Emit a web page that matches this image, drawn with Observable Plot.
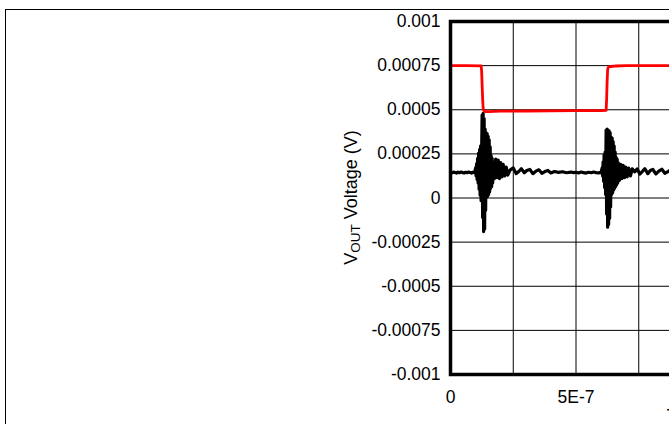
<!DOCTYPE html>
<html><head><meta charset="utf-8">
<script src="https://cdn.jsdelivr.net/npm/d3@7"></script>
<script src="https://cdn.jsdelivr.net/npm/@observablehq/plot@0.6"></script>
<style>
html,body{margin:0;padding:0;background:#fff;overflow:hidden;width:669px;height:424px;}
#border{position:absolute;left:5px;top:9px;width:2000px;height:2000px;border-left:1.5px solid #000;border-top:1.5px solid #000;}
#chart{position:absolute;left:0;top:0;width:980px;}
#chart svg{max-width:none !important;width:980px !important;height:424px !important;}
</style></head><body>
<div id="border"></div>
<div id="chart"></div>
<script>
// ---- data ----
const xTicks = [0, 5e-7];
const xGrid = [2.5e-7, 5e-7, 7.5e-7, 1e-6, 1.25e-6, 1.5e-6, 1.75e-6];
const yTicks = [0.001, 0.00075, 0.0005, 0.00025, 0, -0.00025, -0.0005, -0.00075, -0.001];
const xLabel = "Time (s)";
const yLabelMain = "V", yLabelSub = "OUT", yLabelRest = " Voltage (V)";

// red trace: time in ns, value in microvolts
const redTimeNs = [0, 60, 122, 124, 126, 128, 130, 133, 138, 150, 200, 300, 400, 500, 600, 620, 622, 624, 626, 628, 632, 640, 660, 700, 800, 920];
const redMicroV = [750, 750, 749, 720, 640, 560, 510, 495, 490, 489, 492, 493, 494, 495, 495, 496, 560, 660, 725, 740, 743, 745, 748, 750, 750, 750];

// black trace: time in ns, value in microvolts
const blackTimeNs = [
  0, 6, 12, 18, 24, 30, 36, 42, 48, 54, 60, 66, 72, 78, 84, 90, 96,
  100, 102, 104, 106, 108, 110, 112, 114, 116, 118, 120, 122, 124, 126, 128, 130, 132, 134, 136, 138, 140, 142, 144, 146, 148, 150, 152, 154, 156, 158, 160, 162, 164, 166, 168, 170,
  175, 180, 185, 190, 195, 200, 205, 210, 216, 222, 228, 238, 250, 262, 272, 282, 294, 304, 316, 328, 340, 352, 364, 376, 388, 400, 414, 430, 446, 462, 480,
  490, 500, 510, 520, 530, 540, 550, 560, 570, 580, 590, 600,
  604, 606, 608, 610, 612, 614, 616, 618, 620, 622, 624, 626, 628, 630, 632, 634, 636, 638, 640, 642, 644, 646, 648, 650, 652, 654, 656, 658, 660, 662, 664, 666, 668,
  673, 678, 683, 688, 693, 698, 704, 710, 717, 724, 734, 744, 754, 764, 774, 786, 796, 806, 818, 830, 842, 854, 866, 878, 890, 902, 914
];
const blackMicroV = [
  145, 142, 147, 144, 141, 146, 143, 147, 144, 142, 146, 143, 147, 144, 141, 146, 144,
  170, 125, 195, 105, 225, 85, 255, 50, 275, 15, 295, -15, 260, 470, -110, 480, -190, 450, -175, 390, -70, 370, 5, 365, 10, 350, 20, 330, 35, 290, 55, 240, 65, 225, 85, 205,
  110, 220, 115, 215, 110, 200, 120, 190, 125, 175, 130, 160, 170, 138, 150, 166, 143, 156, 162, 138, 152, 160, 140, 150, 156, 142, 150, 145, 149, 143, 147,
  144, 146, 142, 147, 144, 141, 146, 143, 147, 144, 142, 145,
  170, 125, 205, 95, 245, 60, 260, 20, 385, -90, 390, -165, 385, -150, 380, -115, 370, -50, 345, 20, 340, 30, 320, 45, 295, 55, 260, 65, 230, 75, 220, 85, 200,
  100, 190, 110, 185, 115, 175, 120, 170, 125, 165, 148, 165, 135, 150, 166, 138, 156, 162, 136, 152, 163, 140, 150, 160, 141, 153, 147
];

const red = redTimeNs.map((t, i) => ({t: t * 1e-9, v: redMicroV[i] * 1e-6}));
const black = blackTimeNs.map((t, i) => ({t: t * 1e-9, v: blackMicroV[i] * 1e-6}));

const fmtX = d => d === 0 ? "0" : d.toExponential().toUpperCase().replace("+", "");

const plot = Plot.plot({
  width: 980,
  height: 424,
  marginLeft: 450,
  marginTop: 21,
  marginBottom: 50,
  marginRight: 28,
  style: {fontFamily: "'Liberation Sans', Arial, Helvetica, sans-serif", fontSize: "17.5px", background: "transparent", overflow: "visible", color: "#000", maxWidth: "none"},
  x: {domain: [0, 2e-6]},
  y: {domain: [-0.001, 0.001]},
  marks: [
    Plot.gridX(xGrid, {stroke: "#000", strokeOpacity: 1, strokeWidth: 1}),
    Plot.gridY(yTicks, {stroke: "#000", strokeOpacity: 1, strokeWidth: 1}),
    Plot.line(black, {x: "t", y: "v", stroke: "#000", strokeWidth: 3.2}),
    Plot.line(red, {x: "t", y: "v", stroke: "#ff0000", strokeWidth: 2.8}),
    Plot.frame({stroke: "#000", strokeWidth: 3.5}),
    Plot.axisY(yTicks, {tickSize: 0, tickPadding: 10, tickFormat: d => String(d), label: null, fontSize: 17.5}),
    Plot.axisX(xTicks, {tickSize: 0, tickPadding: 16, tickFormat: fmtX, label: null, fontSize: 17.5}),
    Plot.text([xLabel], {x: () => 8.62e-7, frameAnchor: "bottom", dy: 35, textAnchor: "start", lineAnchor: "top", fontSize: 17.5})
  ]
});

const t = d3.select(plot).append("text")
  .attr("transform", "translate(357,197.5) rotate(-90)")
  .attr("text-anchor", "middle")
  .attr("font-size", 18)
  .attr("fill", "#000");
t.append("tspan").text(yLabelMain);
t.append("tspan").attr("font-size", 13.5).attr("dy", 3).text(yLabelSub);
t.append("tspan").attr("dy", -3).text(yLabelRest);

document.getElementById("chart").appendChild(plot);
</script>
</body></html>
